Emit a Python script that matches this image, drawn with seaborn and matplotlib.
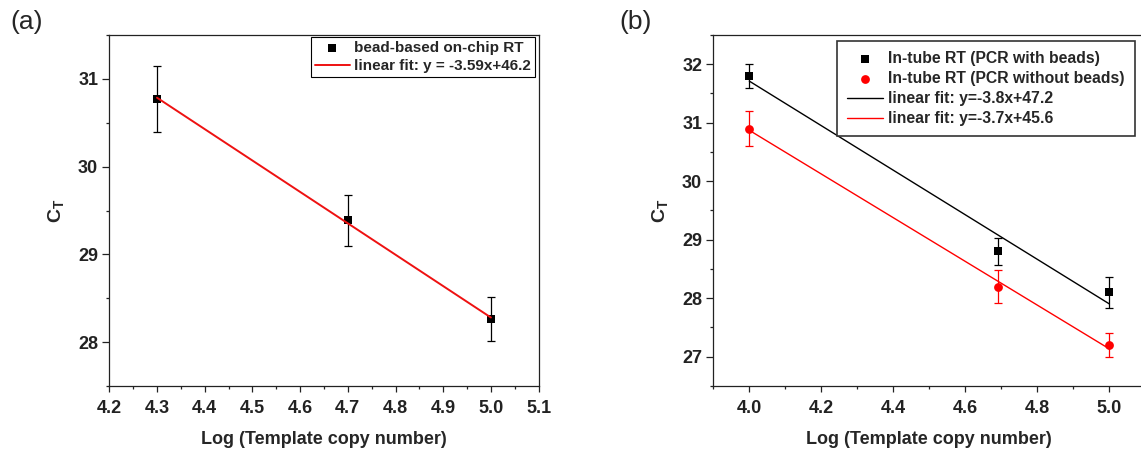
import numpy as np
import matplotlib
matplotlib.use("Agg")
import matplotlib.pyplot as plt
import seaborn as sns
from matplotlib.ticker import MultipleLocator, FormatStrFormatter

# ---- Panel (a): bead-based on-chip RT ----
a_log_copies = [4.3, 4.7, 5.0]
a_ct = [30.77, 29.39, 28.26]
a_ct_err = [0.38, 0.29, 0.25]
a_point_label = "bead-based on-chip RT"
a_fit_label = "linear fit: y = -3.59x+46.2"

# ---- Panel (b): in-tube RT, PCR with / without beads ----
b_log_copies = [4.0, 4.69, 5.0]
b_ct_with_beads = [31.8, 28.8, 28.1]
b_err_with_beads = [0.2, 0.23, 0.26]
b_ct_without_beads = [30.9, 28.2, 27.2]
b_err_without_beads = [0.3, 0.28, 0.21]
b_point_labels = ["In-tube RT (PCR with beads)", "In-tube RT (PCR without beads)"]
b_fit_labels = ["linear fit: y=-3.8x+47.2", "linear fit: y=-3.7x+45.6"]

x_label = "Log (Template copy number)"
y_label = r"$\mathbf{C}_{\mathbf{T}}$"
panel_tags = ["(a)", "(b)"]

sns.set_theme(style="ticks")
plt.rcParams["font.family"] = ["Liberation Sans", "DejaVu Sans"]
plt.rcParams.update({
    "mathtext.fontset": "custom",
    "mathtext.rm": "Liberation Sans",
    "mathtext.bf": "Liberation Sans:bold",
    "axes.edgecolor": "#222222",
    "axes.linewidth": 0.9,
    "xtick.color": "#222222",
    "ytick.color": "#222222",
})

W, H = 1141, 450
fig = plt.figure(figsize=(W / 100, H / 100), dpi=100)
ax_a = fig.add_axes([109.3 / W, 64 / H, 429.3 / W, 351 / H])
ax_b = fig.add_axes([713.3 / W, 64 / H, 432.0 / W, 351 / H])


def draw_points(ax, x, y, err, color, marker, size, label):
    ax.errorbar(x, y, yerr=err, fmt="none", ecolor=color, elinewidth=0.9,
                capsize=2.6, capthick=0.9, zorder=2)
    sns.scatterplot(x=x, y=y, color=color, marker=marker, s=size,
                    edgecolor=color, linewidth=0, ax=ax, label=label, zorder=3)


def draw_fit(ax, x, y, color, lw, label):
    slope, intercept = np.polyfit(x, y, 1)
    xs = np.array([min(x), max(x)])
    sns.lineplot(x=xs, y=slope * xs + intercept, color=color, lw=lw,
                 ax=ax, label=label, zorder=4)


# panel (a)
draw_points(ax_a, a_log_copies, a_ct, a_ct_err, "black", "s", 28, a_point_label)
draw_fit(ax_a, a_log_copies, a_ct, "#ee1111", 1.4, a_fit_label)

# panel (b)
draw_points(ax_b, b_log_copies, b_ct_with_beads, b_err_with_beads,
            "black", "s", 28, b_point_labels[0])
draw_points(ax_b, b_log_copies, b_ct_without_beads, b_err_without_beads,
            "#ff0000", "o", 40, b_point_labels[1])
draw_fit(ax_b, b_log_copies, b_ct_with_beads, "black", 1.0, b_fit_labels[0])
draw_fit(ax_b, b_log_copies, b_ct_without_beads, "#ff0000", 1.0, b_fit_labels[1])

ax_a.set_xlim(4.2, 5.1)
ax_a.set_ylim(27.5, 31.5)
ax_a.xaxis.set_major_locator(MultipleLocator(0.1))
ax_a.xaxis.set_minor_locator(MultipleLocator(0.05))

ax_b.set_xlim(3.9, 5.1)
ax_b.set_ylim(26.5, 32.5)
ax_b.xaxis.set_major_locator(MultipleLocator(0.2))
ax_b.xaxis.set_minor_locator(MultipleLocator(0.1))

for ax in (ax_a, ax_b):
    ax.yaxis.set_major_locator(MultipleLocator(1))
    ax.yaxis.set_minor_locator(MultipleLocator(0.5))
    ax.xaxis.set_major_formatter(FormatStrFormatter("%.1f"))
    ax.yaxis.set_major_formatter(FormatStrFormatter("%d"))
    ax.tick_params(axis="x", which="major", direction="out", length=4, width=0.9, pad=6)
    ax.tick_params(axis="y", which="major", direction="out", length=5, width=0.9, pad=3)
    ax.tick_params(which="minor", direction="out", length=2.5, width=0.9)
    for lab in ax.get_xticklabels() + ax.get_yticklabels():
        lab.set_fontsize(13)
        lab.set_fontweight("bold")
    ax.set_xlabel(x_label, fontsize=13, fontweight="bold", labelpad=10)
    ax.set_ylabel(y_label, fontsize=14, labelpad=8)
    for side in ("top", "right"):
        ax.spines[side].set_visible(True)

# legends
h, l = ax_a.get_legend_handles_labels()
ax_a.legend(h, l, loc="upper right", bbox_to_anchor=(1.0 - 3.5 / 429.3, 1.0 - 2.0 / 351),
            borderaxespad=0, frameon=True, fancybox=False, edgecolor="black",
            framealpha=1, prop=dict(size=11, weight="bold"), handlelength=2.3,
            handletextpad=0.3, borderpad=0.25, labelspacing=0.3, scatterpoints=1)
ax_a.get_legend().get_frame().set_linewidth(0.8)

h, l = ax_b.get_legend_handles_labels()
leg_b = ax_b.legend(h, l, loc="upper left", bbox_to_anchor=(837 / W, 1 - 41 / H),
                    bbox_transform=fig.transFigure, borderaxespad=0, frameon=True,
                    fancybox=False, edgecolor="#333333", framealpha=1,
                    prop=dict(size=11.3, weight="bold"), handlelength=2.3,
                    handletextpad=0.3, borderpad=0.65, labelspacing=0.32,
                    scatterpoints=1)
leg_b.get_frame().set_linewidth(1.2)

fig.text(27 / W, 1 - 22 / H, panel_tags[0], fontsize=19, ha="center", va="center")
fig.text(636 / W, 1 - 22 / H, panel_tags[1], fontsize=19, ha="center", va="center")

fig.savefig("out.png", dpi=100)
